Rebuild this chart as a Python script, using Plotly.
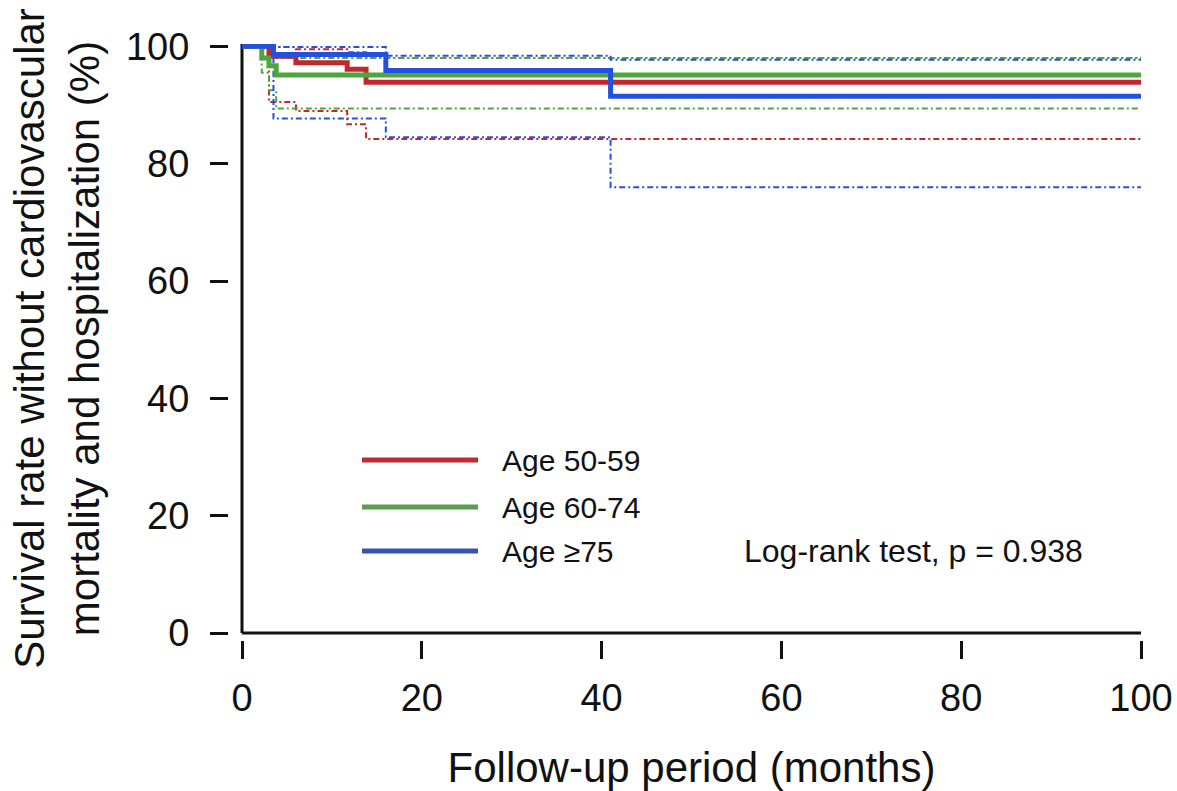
import plotly.graph_objects as go

# ---- data ----
groups = ["Age 50-59", "Age 60-74", "Age \u226575"]

red_t = [0, 3.0, 6.0, 11.7, 13.8, 100]
red_s = [100, 98.3, 97.2, 96.1, 93.9, 93.9]
red_hi = [100, 99.9, 99.5, 99.0, 98.0, 98.0]
red_lo = [100, 90.5, 89.0, 86.7, 84.2, 84.2]

green_t = [0, 2.2, 3.0, 3.8, 100]
green_s = [100, 98.0, 96.7, 95.1, 95.1]
green_hi = [100, 99.5, 99.0, 98.0, 98.0]
green_lo = [100, 95.5, 92.5, 89.4, 89.4]

blue_t = [0, 3.5, 16.0, 41.0, 100]
blue_s = [100, 98.6, 95.9, 91.5, 91.5]
blue_hi = [100, 99.9, 98.4, 97.7, 97.7]
blue_lo = [100, 87.7, 84.5, 76.0, 76.0]

x_ticks = [0, 20, 40, 60, 80, 100]
y_ticks = [0, 20, 40, 60, 80, 100]

colors = ["#c1272d", "#4ca83a", "#2450e0"]
legend_colors = ["#c02a38", "#5a9e50", "#3554b0"]

FONT = "Liberation Sans, Arial, sans-serif"
INK = "#111111"

fig = go.Figure()

series = [
    (red_t, red_s, red_lo, red_hi),
    (green_t, green_s, green_lo, green_hi),
    (blue_t, blue_s, blue_lo, blue_hi),
]

# confidence bands (dash-dot, thin)
for (t, s, lo, hi), c, name in zip(series, colors, groups):
    for band in (lo, hi):
        fig.add_trace(go.Scatter(
            x=t, y=band, mode="lines", line_shape="hv",
            line=dict(color=c, width=2, dash="6px,3px,2px,3px"),
            showlegend=False, hoverinfo="skip", name=name + " CI"))

# survival curves
for (t, s, lo, hi), c, name in zip(series, colors, groups):
    fig.add_trace(go.Scatter(
        x=t, y=s, mode="lines", line_shape="hv",
        line=dict(color=c, width=5), name=name, showlegend=False))

# plot area geometry (body margin removed by post_script)
W, H = 1177, 791
L, R, T, B = 228, 36, 44, 151
pw = W - L - R
ph = H - T - B
x_dom0 = 14 / pw
y_dom0 = 7 / ph

fig.update_layout(
    width=W, height=H,
    margin=dict(l=L, r=R, t=T, b=B, autoexpand=False),
    paper_bgcolor="white", plot_bgcolor="white",
    font=dict(family=FONT, color=INK, size=30),
    xaxis=dict(
        domain=[x_dom0, 1], range=[0, 100], anchor="free", position=0,
        showline=False, showgrid=False, zeroline=False,
        ticks="outside", ticklen=18, tickwidth=3, tickcolor=INK,
        tickvals=x_ticks, ticktext=[str(v) for v in x_ticks],
        tickfont=dict(size=38, family=FONT, color=INK),
        ticklabelstandoff=6,
        title=dict(text="Follow-up period (months)",
                   font=dict(size=42, family=FONT, color=INK), standoff=38),
    ),
    yaxis=dict(
        domain=[y_dom0, 1], range=[0, 100.4], anchor="free", position=0,
        showline=False, showgrid=False, zeroline=False,
        ticks="outside", ticklen=18, tickwidth=3, tickcolor=INK,
        tickvals=y_ticks, ticktext=[str(v) for v in y_ticks],
        tickfont=dict(size=38, family=FONT, color=INK),
        ticklabelstandoff=13,
        title=dict(text="Survival rate without cardiovascular<br>mortality and hospitalization (%)",
                   font=dict(size=42, family=FONT, color=INK), standoff=12),
    ),
    showlegend=False,
)

# axis lines (L-shaped frame)
fig.add_shape(type="line", xref="x domain", yref="y domain", x0=0, x1=0, y0=0, y1=1,
              line=dict(color=INK, width=3), layer="below")
fig.add_shape(type="line", xref="x domain", yref="y domain", x0=0, x1=1, y0=0, y1=0,
              line=dict(color=INK, width=3), layer="below")

# manual legend (positions given in page pixels)
def px_x(px):
    return (px - L) / pw

def px_y(py):
    return (T + ph - py) / ph

for name, c, py in zip(groups, legend_colors, [460, 507, 551]):
    fig.add_shape(type="line", xref="paper", yref="paper",
                  x0=px_x(362), x1=px_x(478), y0=px_y(py), y1=px_y(py),
                  line=dict(color=c, width=5))
    fig.add_annotation(xref="paper", yref="paper", x=px_x(500), y=px_y(py),
                       text=name, showarrow=False, xanchor="left", yanchor="middle",
                       font=dict(size=30, family=FONT, color=INK))

fig.add_annotation(xref="paper", yref="paper", x=px_x(742), y=px_y(551),
                   text="Log-rank test, p = 0.938", showarrow=False,
                   xanchor="left", yanchor="middle",
                   font=dict(size=32, family=FONT, color=INK))

fig.write_html(
    "out.html",
    config={"displayModeBar": False},
    post_script="document.body.style.margin='0';document.body.style.overflow='hidden';",
)
